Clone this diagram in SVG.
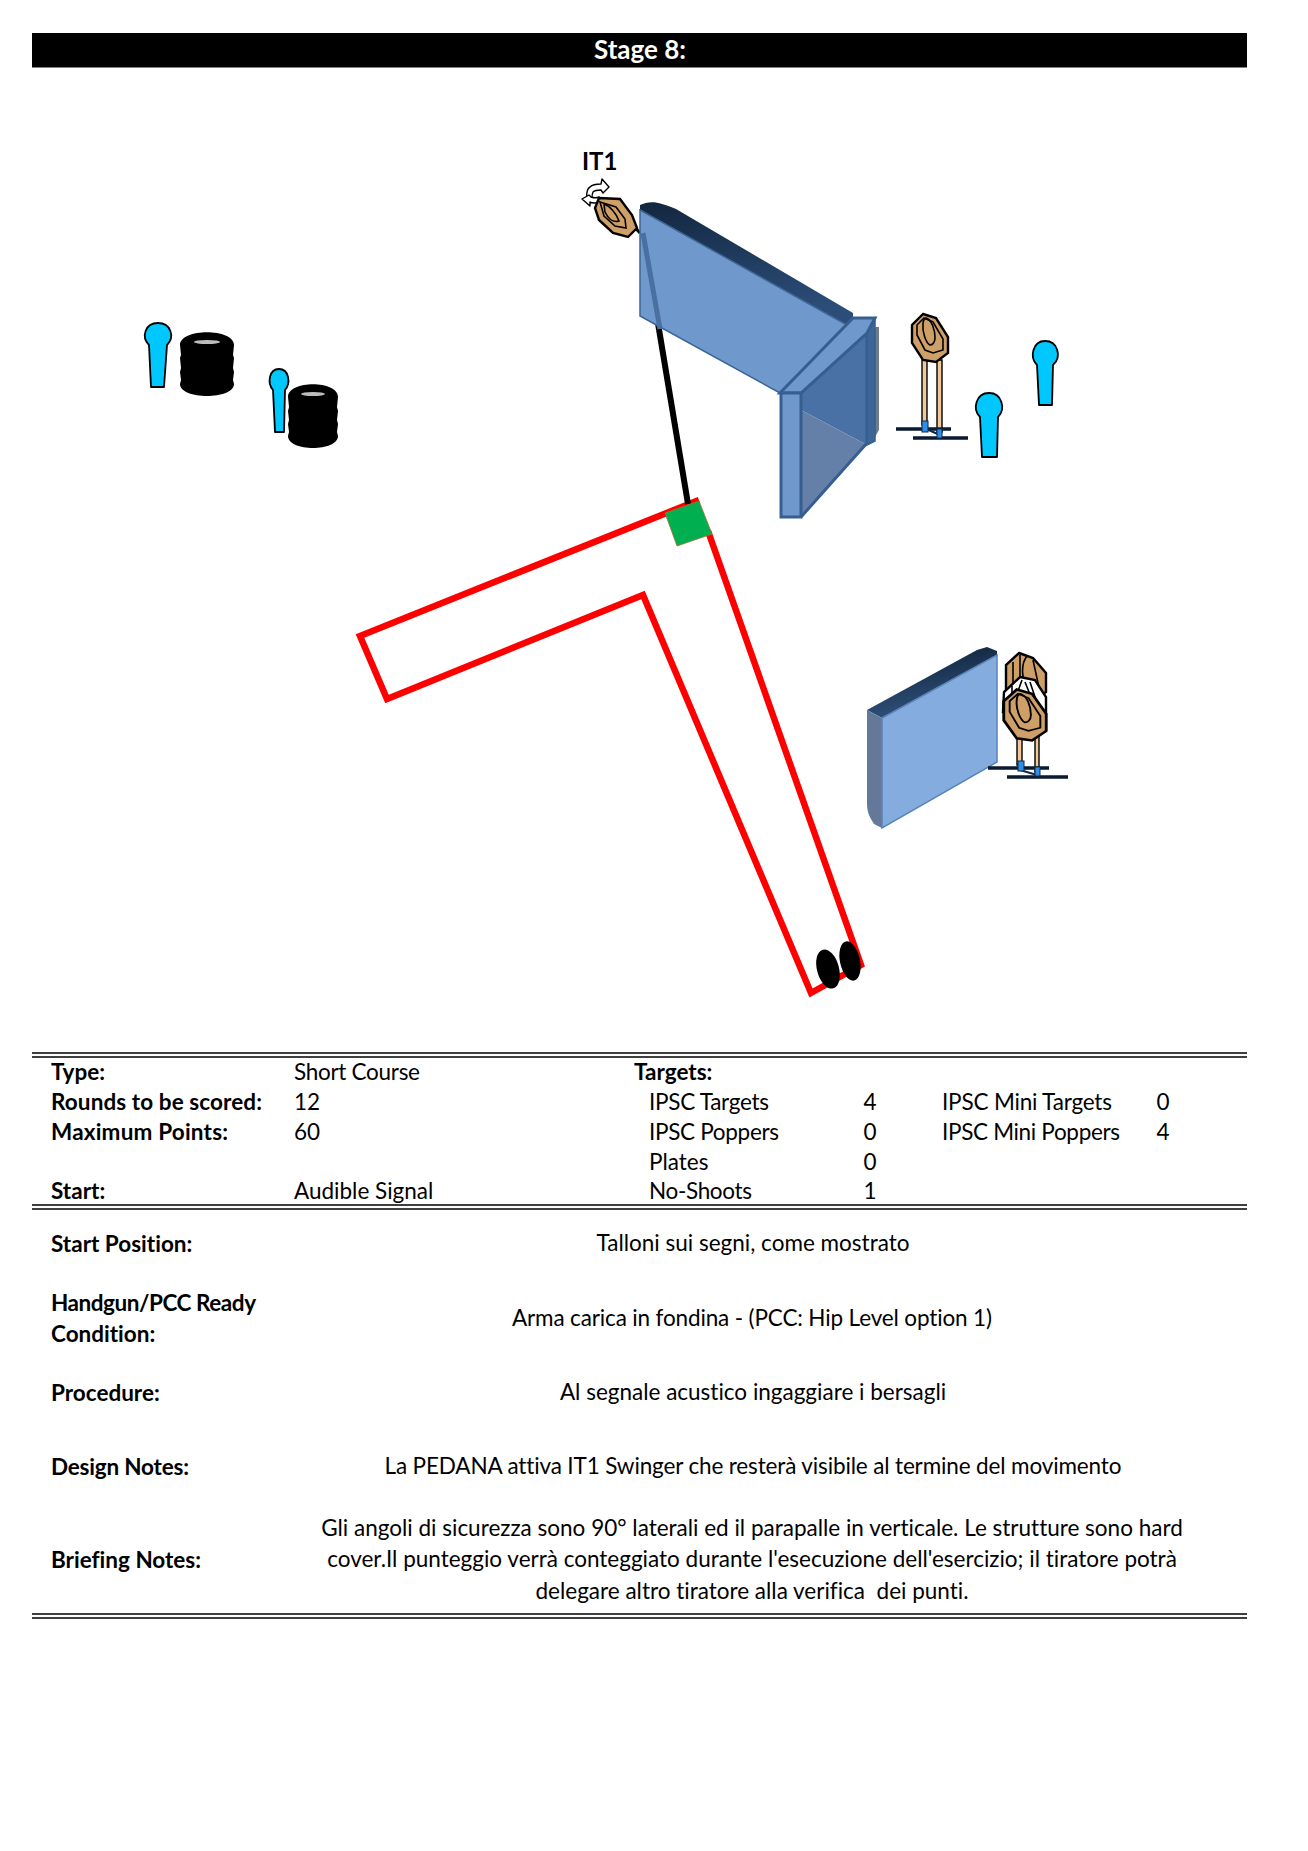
<svg xmlns="http://www.w3.org/2000/svg" width="1308" height="1851" viewBox="0 0 1308 1851">
<style>
text{font-family:Lato,"Open Sans","Liberation Sans",sans-serif;font-size:22.5px;fill:#000;white-space:pre;font-variant-ligatures:none}
.b{font-weight:700}
.m{text-anchor:middle}
.rule{stroke:#000;stroke-width:1.6;fill:none}
.popper{fill:#00c8ff;stroke:#000;stroke-width:1.8;stroke-linejoin:round}
.oct{fill:#cf9f68;stroke:#000;stroke-width:2.4;stroke-linejoin:miter}
.ring{fill:none;stroke:#000;stroke-width:1.6}
.leg{fill:#f0c89a;stroke:#000;stroke-width:1.4}
.base{stroke:#0a1a30;stroke-width:3.6;fill:none}
.foot{fill:#2f8fe8;stroke:#0d2a4a;stroke-width:1}
.w1{fill:#6f99cc;stroke:#3d6595;stroke-width:1.5}
.w3{fill:#6f99cc;stroke:#365e90;stroke-width:3}
</style>
<defs>
<linearGradient id="topA" x1="0" y1="0" x2="0.25" y2="1"><stop offset="0" stop-color="#12263f"/><stop offset="1" stop-color="#2c4d78"/></linearGradient>
<linearGradient id="topB" x1="0.6" y1="0" x2="0.9" y2="1"><stop offset="0" stop-color="#12263f"/><stop offset="1" stop-color="#365a88"/></linearGradient>
<g id="tgt">
<polygon class="oct" points="-7,-24 6,-20 18,-1 18,15 6,24 -7,22 -18,5 -18,-13"/>
<polygon class="ring" points="-6,-20 3,-16 13,1 13,12 3,15 -5,12 -13,-3 -13,-13"/>
<path class="ring" d="M-4,-20 C2,-18 5,-8 5,0 C5,5 2,7 0,7 C-4,5 -8,-6 -7,-14 C-7,-17 -6,-19 -4,-20 Z"/>
</g>
</defs>

<g id="title"><rect x="32" y="33" width="1215" height="34.5" fill="#000"/><text class="b m" x="640" y="59" style="fill:#fff;font-size:26px">Stage 8:</text></g>

<g id="poppers-barrels-left">
<g id="popper-a"><path class="popper" d="M151,387 L149,345 C141,337 145,323 158,323 C171,323 175,337 167,345 L164,387 Z"/></g>
<g id="barrel-a"><path d="M180,345 C180,328 234,328 234,345 L233,355 L234,358 L233,368 L234,372 L233,380 L234,384 C234,400 180,400 180,384 L181,380 L180,372 L181,368 L180,358 L181,355 Z" fill="#000"/><ellipse cx="207" cy="342" rx="13" ry="2" fill="#bdbdbd"/></g>
<g id="popper-b"><path class="popper" d="M275,432 L273,390 C267,383 269,369 279,369 C289,369 291,383 285,390 L284,432 Z"/></g>
<g id="barrel-b"><path d="M288,397 C288,380 338,380 338,397 L337,407 L338,411 L337,420 L338,424 L337,432 L338,436 C338,452 288,452 288,436 L289,432 L288,424 L289,420 L288,411 L289,407 Z" fill="#000"/><ellipse cx="313" cy="394" rx="12" ry="2" fill="#bdbdbd"/></g>
</g>

<g id="connectors">
<path id="fault-line" d="M699,500 L360,636 L387,699 L643,595 L811,993 L861,965 L708,531" fill="none" stroke="#f00" stroke-width="6.5" stroke-linejoin="miter"/>
<line id="activator-line" x1="643" y1="233" x2="688" y2="504" stroke="#000" stroke-width="6"/>
</g>

<g id="pedana"><polygon points="665,513 699,501 712,534 677,546" fill="#00b050" stroke="#a5702a" stroke-width="0.8"/></g>

<g id="feet"><ellipse cx="828" cy="969" rx="11" ry="20" transform="rotate(-15 828 969)" fill="#000"/><ellipse cx="850" cy="961" rx="10" ry="20" transform="rotate(-12 850 961)" fill="#000"/></g>

<g id="swinger-IT1">
<text class="b" x="582" y="170" style="font-size:24px">IT1</text>
<path d="M632,224 L640,233" stroke="#000" stroke-width="3"/>
<path d="M587,197 C586,192 588,188 590,187 C593,184 597,184 601,184 L602,179 L609,187 L603,193 L601,190 C597,190 594,191 593,192 C592,194 592,196 592,198 Z" fill="#fff" stroke="#000" stroke-width="1.4" stroke-linejoin="round"/>
<path d="M582,199 L589,195 L591,197 C594,198 597,198 599,197 L602,200 C600,202 598,203 595,203 C593,203 591,203 590,202 L590,206 Z" fill="#fff" stroke="#000" stroke-width="1.4" stroke-linejoin="round"/>
<polygon class="oct" points="599,198 620,199 632,215 637,228 628,237 613,233 599,220 595,208"/>
<polygon class="ring" points="600,202 616,207 625,219 626,228 615,226 604,216"/>
<path class="ring" d="M604,204 C610,206 616,213 619,221 C613,223 608,218 605,212 Z"/>
</g>

<g id="wall-a">
<path d="M640,205 C646,202 654,201 662,204 C668,206 672,207 676,209 L853,313 L853,318 L847,325 L640,210 Z" fill="url(#topA)"/>
<polygon class="w1" points="640,210 847,325 853,318 780,393 640,316"/>
<line x1="643" y1="233" x2="660" y2="329" stroke="#4a70a2" stroke-width="5"/>
<polygon points="875,327 879,327 879,430 875,437" fill="#6e7b8c"/>
<polygon points="801,393 867,333 867,445 801,410" fill="#4a71a5"/>
<polygon points="801,410 867,445 801,517" fill="#647fa8"/>
<path d="M801,393 L867,333 L867,443 L801,517" fill="none" stroke="#365e90" stroke-width="3"/>
<polygon points="867,325 875,318 875,441 867,445" fill="#3d6595" stroke="#365e90" stroke-width="1.5"/>
<polygon class="w3" points="780,393 853,318 875,318 867,333 801,393"/>
<rect class="w3" x="781" y="393" width="20" height="124"/>
</g>

<g id="targets-a">
<path class="leg" d="M922,358 H927 V425 H922 Z M937,360 H942 V432 H937 Z"/>
<path class="base" d="M896,429 H951 M913,438 H968"/>
<path d="M924,428 L940,435" stroke="#0d2a4a" stroke-width="2"/>
<rect class="foot" x="922" y="421" width="6" height="11"/><rect class="foot" x="937" y="429" width="5" height="9"/>
<use href="#tgt" x="930" y="338"/>
<g id="popper-c"><path class="popper" d="M982,457 L980,417 C972,409 976,393 989,393 C1002,393 1006,409 998,417 L997,457 Z"/></g>
<g id="popper-d"><path class="popper" d="M1039,405 L1037,365 C1029,357 1033,341 1045,341 C1058,341 1062,357 1053,365 L1052,405 Z"/></g>
</g>

<g id="wall-b">
<polygon points="867,710 977,650 987,647 997,651 997,655 882,718" fill="url(#topB)"/>
<path d="M867,710 L882,718 V828 L874,824 C868,815 867,810 867,803 Z" fill="#64799a"/>
<polygon points="882,718 997,655 997,762 882,828" fill="#85acde" stroke="#5a84ba" stroke-width="1.5"/>
</g>

<g id="targets-b">
<path class="leg" d="M1017,735 H1022 V765 H1017 Z M1035,735 H1039 V772 H1035 Z"/>
<path class="base" d="M988,768 H1049 M1007,777 H1068"/>
<path d="M1020,770 L1037,775" stroke="#0d2a4a" stroke-width="2"/>
<rect class="foot" x="1018" y="761" width="6" height="10"/><rect class="foot" x="1035" y="767" width="5" height="9"/>
<g id="back-target">
<polygon class="oct" points="1019,653 1033,658 1046,673 1046,692 1034,699 1019,699 1006,690 1006,665"/>
<path class="ring" d="M1013,662 L1013,690 M1020,655 L1020,680 M1033,660 L1040,692 M1027,656 C1020,665 1022,680 1028,690"/>
</g>
<g id="no-shoot">
<polygon points="1020,677 1035,680 1046,697 1046,712 1003,712 1004,692" fill="#fff" stroke="#000" stroke-width="2.4"/>
<path class="ring" d="M1012,686 L1012,708 M1022,680 L1014,702 M1030,682 L1038,706 M1025,682 L1033,702"/>
</g>
<use href="#tgt" transform="translate(1025,715) scale(1.18,1.06)"/>
</g>

<g id="briefing">
<path class="rule" d="M32,1053 H1247 M32,1057 H1247 M32,1205 H1247 M32,1209 H1247 M32,1614 H1247 M32,1618 H1247"/>
<text class="b" x="51" y="1080">Type:</text><text x="294" y="1080" textLength="126">Short Course</text><text class="b" x="634" y="1080">Targets:</text>
<text class="b" x="51" y="1110" textLength="211">Rounds to be scored:</text><text x="294" y="1110">12</text><text x="649" y="1110" textLength="120">IPSC Targets</text><text class="m" x="870" y="1110">4</text><text x="942" y="1110" textLength="170">IPSC Mini Targets</text><text class="m" x="1163" y="1110">0</text>
<text class="b" x="51" y="1140" textLength="177">Maximum Points:</text><text x="294" y="1140">60</text><text x="649" y="1140" textLength="130">IPSC Poppers</text><text class="m" x="870" y="1140">0</text><text x="942" y="1140" textLength="178">IPSC Mini Poppers</text><text class="m" x="1163" y="1140">4</text>
<text x="649" y="1170">Plates</text><text class="m" x="870" y="1170">0</text>
<text class="b" x="51" y="1199">Start:</text><text x="294" y="1199">Audible Signal</text><text x="649" y="1199" textLength="103">No-Shoots</text><text class="m" x="870" y="1199">1</text>
<text class="b" x="51" y="1252">Start Position:</text><text class="m" x="753" y="1251">Talloni sui segni, come mostrato</text>
<text class="b" x="51" y="1311" textLength="205">Handgun/PCC Ready</text><text class="b" x="51" y="1342">Condition:</text><text class="m" x="752" y="1326" textLength="480">Arma carica in fondina - (PCC: Hip Level option 1)</text>
<text class="b" x="51" y="1401">Procedure:</text><text class="m" x="753" y="1400">Al segnale acustico ingaggiare i bersagli</text>
<text class="b" x="51" y="1475" textLength="138">Design Notes:</text><text class="m" x="753" y="1474" textLength="737">La PEDANA attiva IT1 Swinger che resterà visibile al termine del movimento</text>
<text class="b" x="51" y="1568">Briefing Notes:</text>
<text class="m" x="752" y="1536">Gli angoli di sicurezza sono 90° laterali ed il parapalle in verticale. Le strutture sono hard</text>
<text class="m" x="752" y="1567">cover.Il punteggio verrà conteggiato durante l'esecuzione dell'esercizio; il tiratore potrà</text>
<text class="m" x="752" y="1599">delegare altro tiratore alla verifica  dei punti.</text>
</g>
</svg>
